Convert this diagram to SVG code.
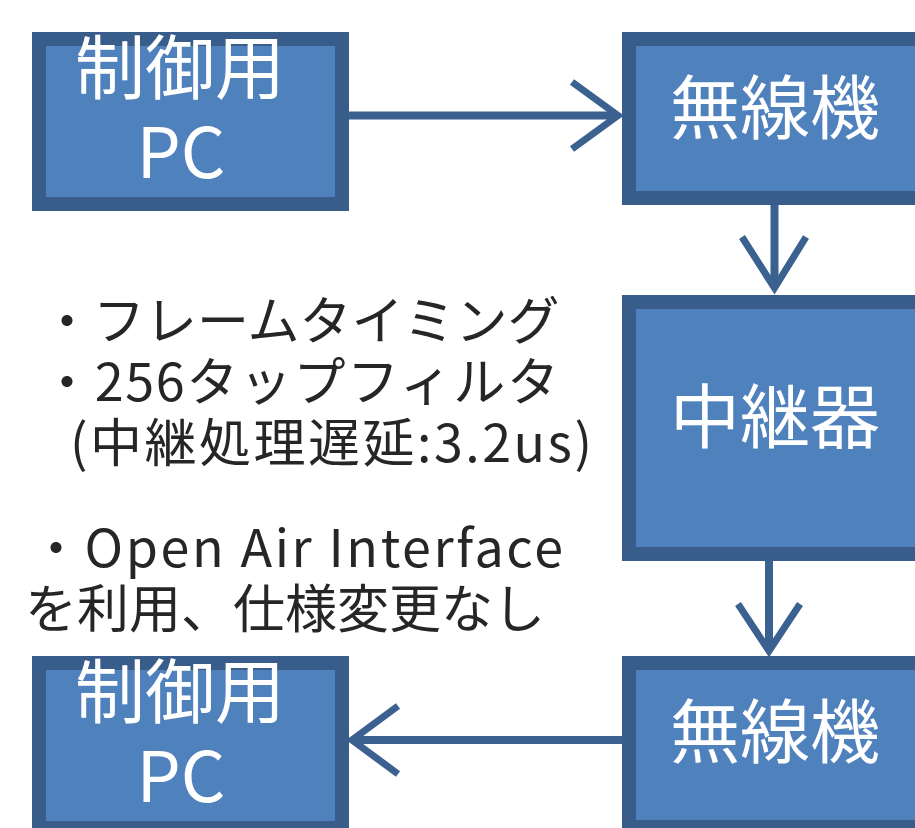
<svg xmlns="http://www.w3.org/2000/svg" width="915" height="828" viewBox="0 0 915 828">
<style>
.box{fill:#4f81bd;stroke:#385d8a;stroke-width:14}
.bt{font-family:"Noto Sans CJK JP","Noto Sans",sans-serif;font-size:70px;fill:#ffffff;text-anchor:middle}
.note{font-family:"Noto Sans CJK JP","Noto Sans",sans-serif;font-size:52px;fill:#262626}
.ln{fill:none;stroke:#3a6190;stroke-width:8}
.hd{fill:none;stroke:#3a6190;stroke-width:7;stroke-linejoin:miter}
</style>
<rect width="915" height="828" fill="#ffffff"/>
<g id="connectors">
<g id="e1"><line class="ln" x1="349" y1="115.5" x2="616" y2="115.5"/><polyline class="hd" points="572,82 618,115.5 572,149"/></g>
<g id="e2"><line class="ln" x1="774.5" y1="199" x2="774.5" y2="288"/><polyline class="hd" points="742,237 774.5,288 806,237"/></g>
<g id="e3"><line class="ln" x1="769" y1="553" x2="769" y2="651"/><polyline class="hd" points="738,604 769,651 800,604"/></g>
<g id="e4"><line class="ln" x1="622" y1="740" x2="354" y2="740"/><polyline class="hd" points="398,706 352,740 398,774"/></g>
</g>
<g id="pc1"><rect class="box" x="39" y="39" width="303" height="165"/><text class="bt" x="180" y="94">制御用</text><text class="bt" x="181" y="178">PC</text></g>
<g id="radio1"><rect class="box" x="629" y="39" width="320" height="159"/><text class="bt" x="775" y="134">無線機</text></g>
<g id="relay"><rect class="box" x="629" y="302" width="320" height="252"/><text class="bt" x="775" y="443">中継器</text></g>
<g id="radio2"><rect class="box" x="629" y="663" width="320" height="164"/><text class="bt" x="775" y="758">無線機</text></g>
<g id="pc2"><rect class="box" x="39" y="663" width="303" height="165"/><text class="bt" x="180" y="718">制御用</text><text class="bt" x="181" y="802">PC</text></g>
<g id="notes">
<text class="note" x="41" y="340">・フレームタイミング</text>
<text class="note" x="41" y="401" textLength="518" lengthAdjust="spacing">・256タップフィルタ</text>
<text class="note" x="70" y="462" textLength="522" lengthAdjust="spacing">(中継処理遅延:3.2us)</text>
<text class="note" x="30" y="567" textLength="533" lengthAdjust="spacing">・Open Air Interface</text>
<text class="note" x="25" y="628">を利用、仕様変更なし</text>
</g>
</svg>
